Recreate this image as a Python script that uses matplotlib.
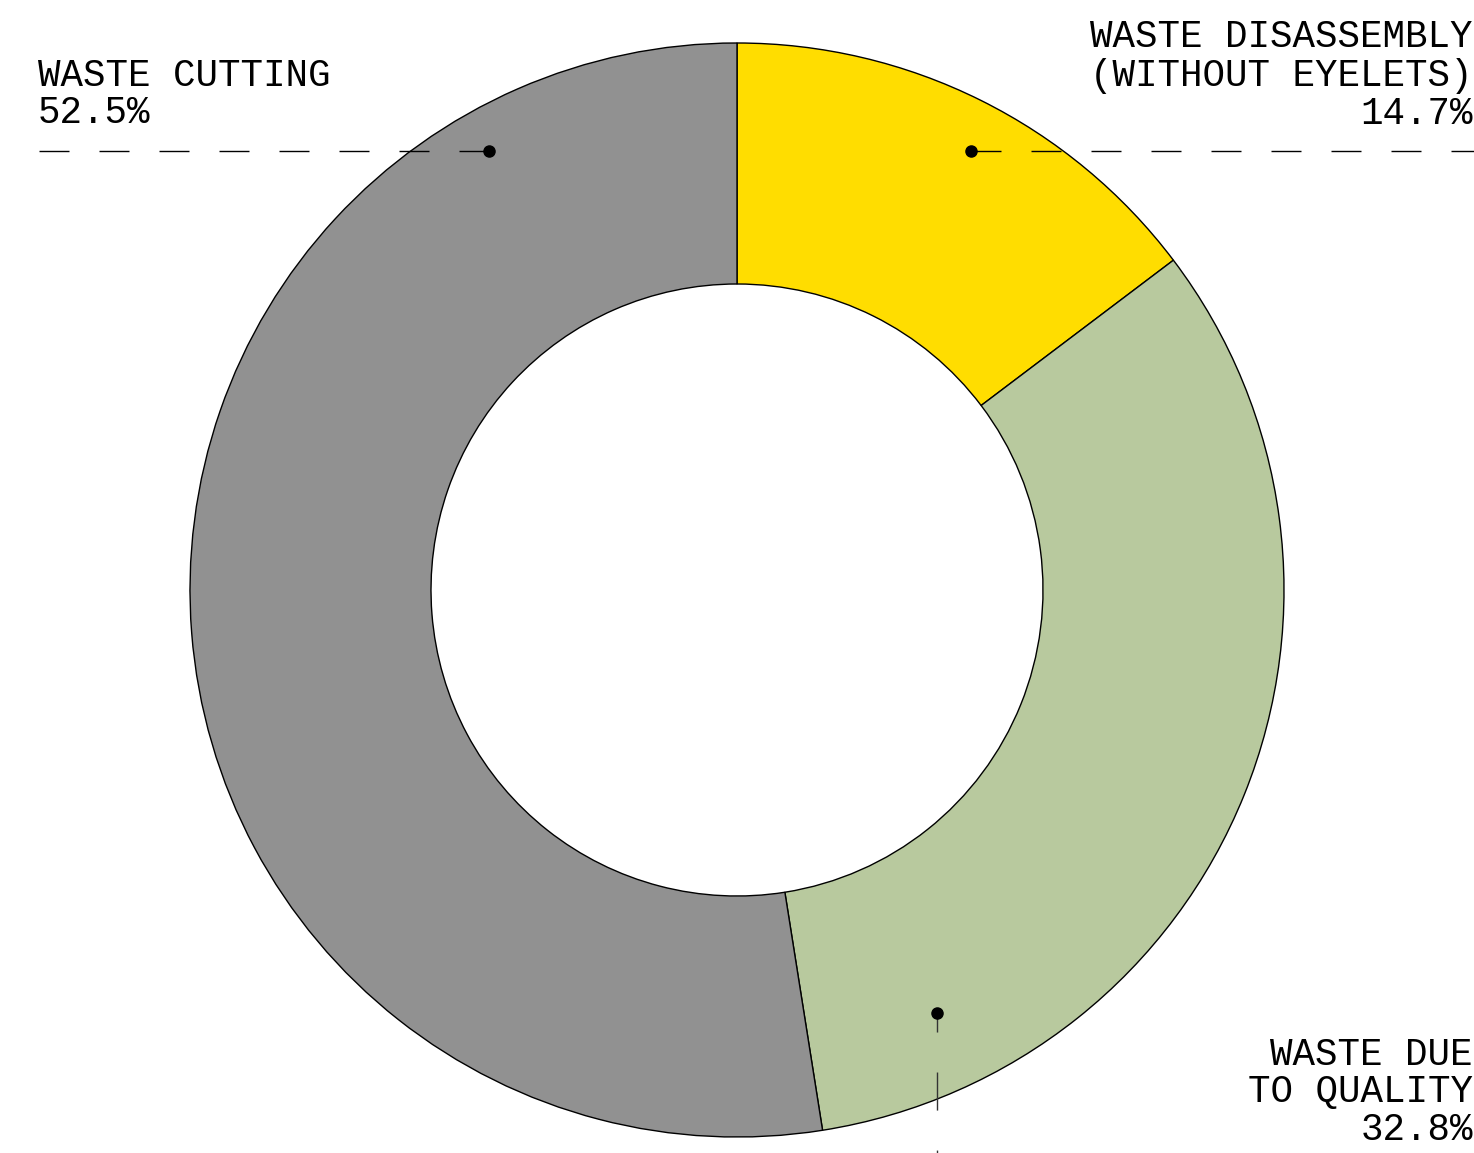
import matplotlib.pyplot as plt

# Data
labels = ['WASTE DISASSEMBLY\n(WITHOUT EYELETS)', 'WASTE DUE\nTO QUALITY', 'WASTE CUTTING']
shares = [14.7, 32.8, 52.5]
colors = ['#FFDD00', '#B8C99E', '#919191']

W, H = 1474, 1153


def py(y):
    # pixel row (from top) -> data y
    return H - y


fig = plt.figure(figsize=(W / 100, H / 100), dpi=100)
ax = fig.add_axes([0, 0, 1, 1])

# Donut
outer_r = 547
inner_r = 306
ax.pie(shares, colors=colors, startangle=90, counterclock=False,
       center=(737, py(590)), radius=outer_r, frame=True,
       wedgeprops=dict(width=outer_r - inner_r, edgecolor='black', linewidth=1))
ax.set_xlim(0, W)
ax.set_ylim(0, H)
ax.set_aspect('equal')
ax.axis('off')

font = dict(family='Liberation Mono', size=27, color='black')
dash = (21.6, 21.6)  # 30 px on / 30 px off

# Leader lines with dots
ax.plot([489, 38], [py(151), py(151)], color='black', lw=1, dashes=dash, zorder=5)
ax.plot([489], [py(151)], 'o', color='black', ms=8, zorder=6)

ax.plot([971, W], [py(151), py(151)], color='black', lw=1, dashes=dash, zorder=5)
ax.plot([971], [py(151)], 'o', color='black', ms=8, zorder=6)

ax.plot([937, 937], [py(1013), 0], color='#333333', lw=1,
        linestyle=(13.7, (27.4, 28.8)), zorder=5)
ax.plot([937], [py(1013)], 'o', color='black', ms=8, zorder=6)

# Labels
ax.text(38, py(86), 'WASTE CUTTING', ha='left', va='baseline', **font)
ax.text(38, py(123), f'{shares[2]}%', ha='left', va='baseline', **font)

ax.text(1473, py(47), 'WASTE DISASSEMBLY', ha='right', va='baseline', **font)
ax.text(1473, py(86), '(WITHOUT EYELETS)', ha='right', va='baseline', **font)
ax.text(1473, py(124), f'{shares[0]}%', ha='right', va='baseline', **font)

ax.text(1473, py(1065), 'WASTE DUE', ha='right', va='baseline', **font)
ax.text(1473, py(1102), 'TO QUALITY', ha='right', va='baseline', **font)
ax.text(1473, py(1140), f'{shares[1]}%', ha='right', va='baseline', **font)

fig.savefig('out.png', dpi=100, facecolor='white')
